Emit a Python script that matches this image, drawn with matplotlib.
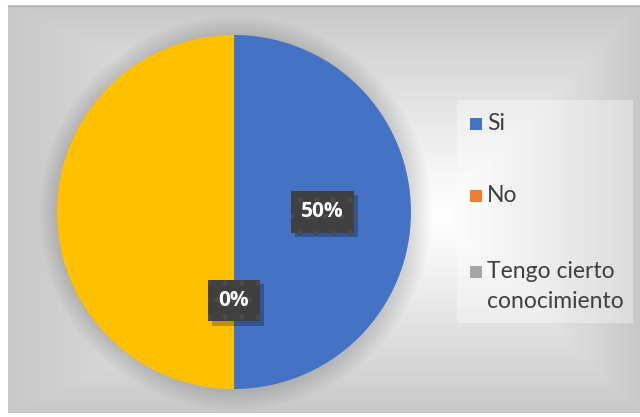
import numpy as np
import matplotlib
matplotlib.use("Agg")
import matplotlib.pyplot as plt
from matplotlib.patches import Rectangle, Circle
import matplotlib.patheffects as pe

# Survey answers (percent of respondents)
categories = ["Si", "No", "Tengo cierto\nconocimiento", ""]
values = [50, 0, 0, 50]
colors = ["#4472C4", "#ED7D31", "#A5A5A5", "#FFC000"]
legend_entries = [0, 1, 2]
labelled = [0, 1]

W, H, DPI = 640, 417, 100
fig = plt.figure(figsize=(W / DPI, H / DPI), dpi=DPI)
fig.patch.set_facecolor("white")
FONT = ["Lato", "DejaVu Sans"]
LABEL_FONT = ["Open Sans", "DejaVu Sans"]


def fx(x):
    return x / W


def fy(y):
    return 1 - y / H


# Chart area with rectangular path gradient
bg = fig.add_axes([0, 0, 1, 1])
bg.set_axis_off()
bg.set_xlim(0, W)
bg.set_ylim(H, 0)
x0, y0, x1, y1 = 8, 5, 640, 413
xs = np.arange(x0, x1) + 0.5
ys = np.arange(y0, y1) + 0.5
X, Y = np.meshgrid(xs, ys)
cx, cy = 440, 215
dx = np.where(X < cx, (cx - X) / (cx - x0), (X - cx) / (x1 - cx))
dy = np.where(Y < cy, (cy - Y) / (cy - y0), (Y - cy) / (y1 - cy))
t = np.clip(np.maximum(dx, dy), 0, 1)
v = (255 - 55 * t ** 1.1) / 255
img = np.dstack([v, v, v])
bg.imshow(img, extent=[x0, x1, y1, y0], interpolation="bilinear", aspect="auto")
bg.plot([x0, x1], [y0 + 0.5, y0 + 0.5], color="#b8b8b8", lw=1)

# Pie
pcx, pcy, r = 234, 212, 177
ax = fig.add_axes([fx(pcx - r), fy(pcy + r), 2 * r / W, 2 * r / H])
ax.set_axis_off()
ax.patch.set_alpha(0)

# soft shadow around the pie
for k in range(16):
    rr = 1.0 + 0.007 * (k + 1)
    ax.add_patch(Circle((0.008, -0.008), rr, facecolor="black", alpha=0.008,
                        edgecolor="none", zorder=0, clip_on=False))

wedges, _ = ax.pie(values, colors=colors, startangle=90, counterclock=False,
                   radius=1, center=(0, 0), frame=False,
                   wedgeprops=dict(linewidth=0, zorder=1))
ax.set_xlim(-1, 1)
ax.set_ylim(-1, 1)

plt.rcParams["hatch.linewidth"] = 1.2
for i in labelled:
    w = wedges[i]
    mid = np.deg2rad((w.theta1 + w.theta2) / 2)
    lx, ly = 0.5 * np.cos(mid), 0.5 * np.sin(mid)
    txt = ax.text(lx, ly, f"{values[i]:.0f}%", ha="center", va="center",
                  fontsize=15, fontweight="bold", color="white",
                  family=LABEL_FONT, zorder=5,
                  bbox=dict(boxstyle="square,pad=0.5", facecolor="#404040",
                            edgecolor="#4c4c4c", linewidth=0, hatch="."))
    txt.get_bbox_patch().set_path_effects([
        pe.withSimplePatchShadow(offset=(3, -3), shadow_rgbFace="black", alpha=0.25),
        pe.Normal()])

# Legend panel
fig.patches.append(Rectangle((fx(457), fy(323)), (633 - 457) / W, (323 - 100) / H,
                             transform=fig.transFigure, facecolor="white",
                             alpha=0.35, edgecolor="none", zorder=2))
rows = [124, 196, 272]
for i, yc in zip(legend_entries, rows):
    fig.patches.append(Rectangle((fx(470), fy(yc + 6)), 12 / W, 12 / H,
                                 transform=fig.transFigure, facecolor=colors[i],
                                 edgecolor="none", zorder=3))
    for j, line in enumerate(categories[i].split("\n")):
        fig.text(fx(487), fy(yc + 29 * j), line, ha="left", va="center",
                 fontsize=16.5, color="#3f3f3f", family=FONT, zorder=4)

fig.savefig("out.png", dpi=DPI)
